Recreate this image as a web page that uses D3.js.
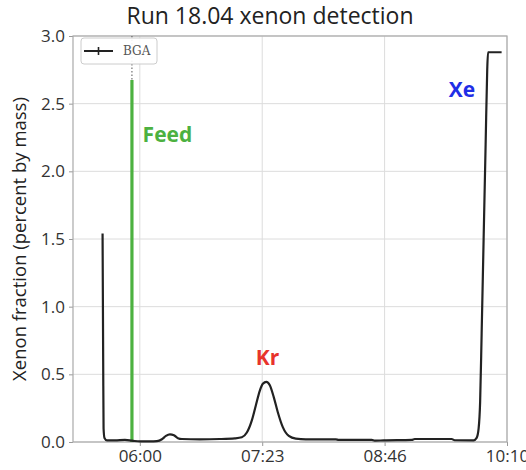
<!DOCTYPE html>
<html>
<head>
<meta charset="utf-8">
<script src="https://cdn.jsdelivr.net/npm/d3@7"></script>
<style>
  body { margin: 0; background: #fff; }
  svg { font-family: 'Open Sans', sans-serif; }
</style>
</head>
<body>
<svg id="chart"></svg>
<script>
// BGA readings (time of day, xenon fraction in percent by mass)
const bgaTimes = [
  '05:34:38', '05:35:03', '05:35:19', '05:35:56', '05:37:38', '05:43:04', '05:49:52',
  '05:54:38', '06:00:05', '06:06:53', '06:11:38', '06:15:02', '06:17:46', '06:20:29',
  '06:23:13', '06:25:56', '06:28:39', '06:40:53', '06:54:30', '07:04:42', '07:09:28',
  '07:12:52', '07:16:16', '07:18:59', '07:21:43', '07:23:45', '07:26:08', '07:28:31',
  '07:31:14', '07:33:57', '07:37:21', '07:41:26', '07:46:12', '07:53:00', '08:13:25',
  '08:15:27', '08:37:54', '08:39:56', '08:46:04', '09:05:07', '09:07:09', '09:32:19',
  '09:34:22', '09:47:17', '09:49:20', '09:50:41', '09:51:43', '09:52:44', '09:54:05',
  '09:55:27', '09:56:32', '09:57:05', '10:06:20'
];
const bgaValues = [
  1.54, 0.60, 0.10, 0.03, 0.012, 0.012, 0.015,
  0.01, 0.004, 0.004, 0.006, 0.02, 0.045, 0.057,
  0.05, 0.028, 0.022, 0.02, 0.022, 0.027, 0.035,
  0.07, 0.16, 0.27, 0.38, 0.43, 0.445, 0.42,
  0.33, 0.22, 0.11, 0.045, 0.025, 0.02, 0.02,
  0.015, 0.015, 0.01, 0.012, 0.015, 0.022, 0.022,
  0.013, 0.012, 0.03, 0.1, 0.3, 0.8, 1.5,
  2.2, 2.75, 2.88, 2.88
];

// feed injection marker
const feedTime = '05:54:38';
const feedValue = 2.675;

// annotations: label, time, value, colour
const labelNames = ['Feed', 'Kr', 'Xe'];
const labelTimes = ['06:01:54', '07:18:54', '09:30:18'];
const labelValues = [2.215, 0.57, 2.55];
const labelColors = ['#4cb140', '#e8332b', '#1f2ee6'];

const xDomain = ['05:14:30', '10:10:00'];
const xTicks = ['06:00:00', '07:23:20', '08:46:40', '10:10:00'];
const yTicks = [0, 0.5, 1.0, 1.5, 2.0, 2.5, 3.0];

const width = 526;
const height = 470;
const margin = { top: 36, right: 19, bottom: 28, left: 73 };

const parseTime = d3.timeParse('%H:%M:%S');
const data = bgaTimes.map((t, i) => ({ time: parseTime(t), value: bgaValues[i] }));

const svg = d3.select('#chart')
  .attr('width', width)
  .attr('height', height);

const xScale = d3.scaleTime()
  .domain(xDomain.map(parseTime))
  .range([margin.left, width - margin.right]);

const yScale = d3.scaleLinear()
  .domain([0, 3])
  .range([height - margin.bottom, margin.top]);

// grid lines
svg.append('g')
  .selectAll('line')
  .data(xTicks.map(parseTime))
  .enter()
  .append('line')
  .attr('x1', d => xScale(d))
  .attr('x2', d => xScale(d))
  .attr('y1', margin.top)
  .attr('y2', height - margin.bottom)
  .attr('stroke', '#dcdcdc')
  .attr('stroke-width', 1);

svg.append('g')
  .selectAll('line')
  .data(yTicks)
  .enter()
  .append('line')
  .attr('x1', margin.left)
  .attr('x2', width - margin.right)
  .attr('y1', d => yScale(d))
  .attr('y2', d => yScale(d))
  .attr('stroke', '#dcdcdc')
  .attr('stroke-width', 1);

// axes
const xAxis = d3.axisBottom(xScale)
  .tickValues(xTicks.map(parseTime))
  .tickFormat(d3.timeFormat('%H:%M'))
  .tickSizeOuter(0)
  .tickSize(4)
  .tickPadding(4);
const xg = svg.append('g')
  .attr('transform', `translate(0, ${height - margin.bottom})`)
  .call(xAxis);

const yAxis = d3.axisLeft(yScale)
  .tickValues(yTicks)
  .tickFormat(d3.format('.1f'))
  .tickSizeOuter(0)
  .tickSize(4)
  .tickPadding(4);
const yg = svg.append('g')
  .attr('transform', `translate(${margin.left}, 0)`)
  .call(yAxis);

[xg, yg].forEach(g => {
  g.select('.domain').remove();
  g.selectAll('line').attr('stroke', '#999');
  g.selectAll('text')
    .attr('fill', '#333')
    .style('font-size', '17px')
    .style('font-family', "'Open Sans', sans-serif");
});

// frame
svg.append('rect')
  .attr('x', margin.left)
  .attr('y', margin.top)
  .attr('width', width - margin.left - margin.right)
  .attr('height', height - margin.top - margin.bottom)
  .attr('fill', 'none')
  .attr('stroke', '#aaa')
  .attr('stroke-width', 1.2);

// dotted feed marker and green feed line
const feedX = xScale(parseTime(feedTime));
svg.append('line')
  .attr('x1', feedX)
  .attr('x2', feedX)
  .attr('y1', yScale(3))
  .attr('y2', yScale(0))
  .attr('stroke', '#555')
  .attr('stroke-width', 1)
  .attr('stroke-dasharray', '1.5,2');

svg.append('line')
  .attr('x1', feedX)
  .attr('x2', feedX)
  .attr('y1', yScale(0))
  .attr('y2', yScale(feedValue))
  .attr('stroke', '#4cb140')
  .attr('stroke-width', 3.2);

// BGA trace
const line = d3.line()
  .x(d => xScale(d.time))
  .y(d => yScale(d.value))
  .curve(d3.curveMonotoneX);

svg.append('path')
  .datum(data)
  .attr('d', line)
  .attr('fill', 'none')
  .attr('stroke', '#222')
  .attr('stroke-width', 2.2)
  .attr('stroke-linejoin', 'round');

// annotations
svg.append('g')
  .selectAll('text')
  .data(labelNames)
  .enter()
  .append('text')
  .attr('x', (d, i) => xScale(parseTime(labelTimes[i])))
  .attr('y', (d, i) => yScale(labelValues[i]))
  .attr('fill', (d, i) => labelColors[i])
  .style('font-size', '21px')
  .style('font-weight', 'bold')
  .text(d => d);

// legend
const legend = svg.append('g')
  .attr('transform', `translate(${margin.left + 8}, ${margin.top + 2})`);

legend.append('rect')
  .attr('width', 76)
  .attr('height', 26)
  .attr('rx', 3)
  .attr('fill', 'rgba(255,255,255,0.9)')
  .attr('stroke', '#ccc');

legend.append('line')
  .attr('x1', 3)
  .attr('x2', 32)
  .attr('y1', 13)
  .attr('y2', 13)
  .attr('stroke', '#222')
  .attr('stroke-width', 2);

legend.append('line')
  .attr('x1', 17.5)
  .attr('x2', 17.5)
  .attr('y1', 9)
  .attr('y2', 17)
  .attr('stroke', '#222')
  .attr('stroke-width', 1.6);

legend.append('text')
  .attr('x', 42)
  .attr('y', 17)
  .attr('fill', '#555')
  .style('font-family', "'DejaVu Serif', serif")
  .style('font-size', '12px')
  .text('BGA');

// title and y label
svg.append('text')
  .attr('x', 270)
  .attr('y', 24)
  .attr('text-anchor', 'middle')
  .attr('fill', '#222')
  .style('font-size', '23px')
  .text('Run 18.04 xenon detection');

svg.append('text')
  .attr('transform', `translate(26, ${(margin.top + height - margin.bottom) / 2}) rotate(-90)`)
  .attr('text-anchor', 'middle')
  .attr('fill', '#222')
  .style('font-size', '18.5px')
  .text('Xenon fraction (percent by mass)');
</script>
</body>
</html>
